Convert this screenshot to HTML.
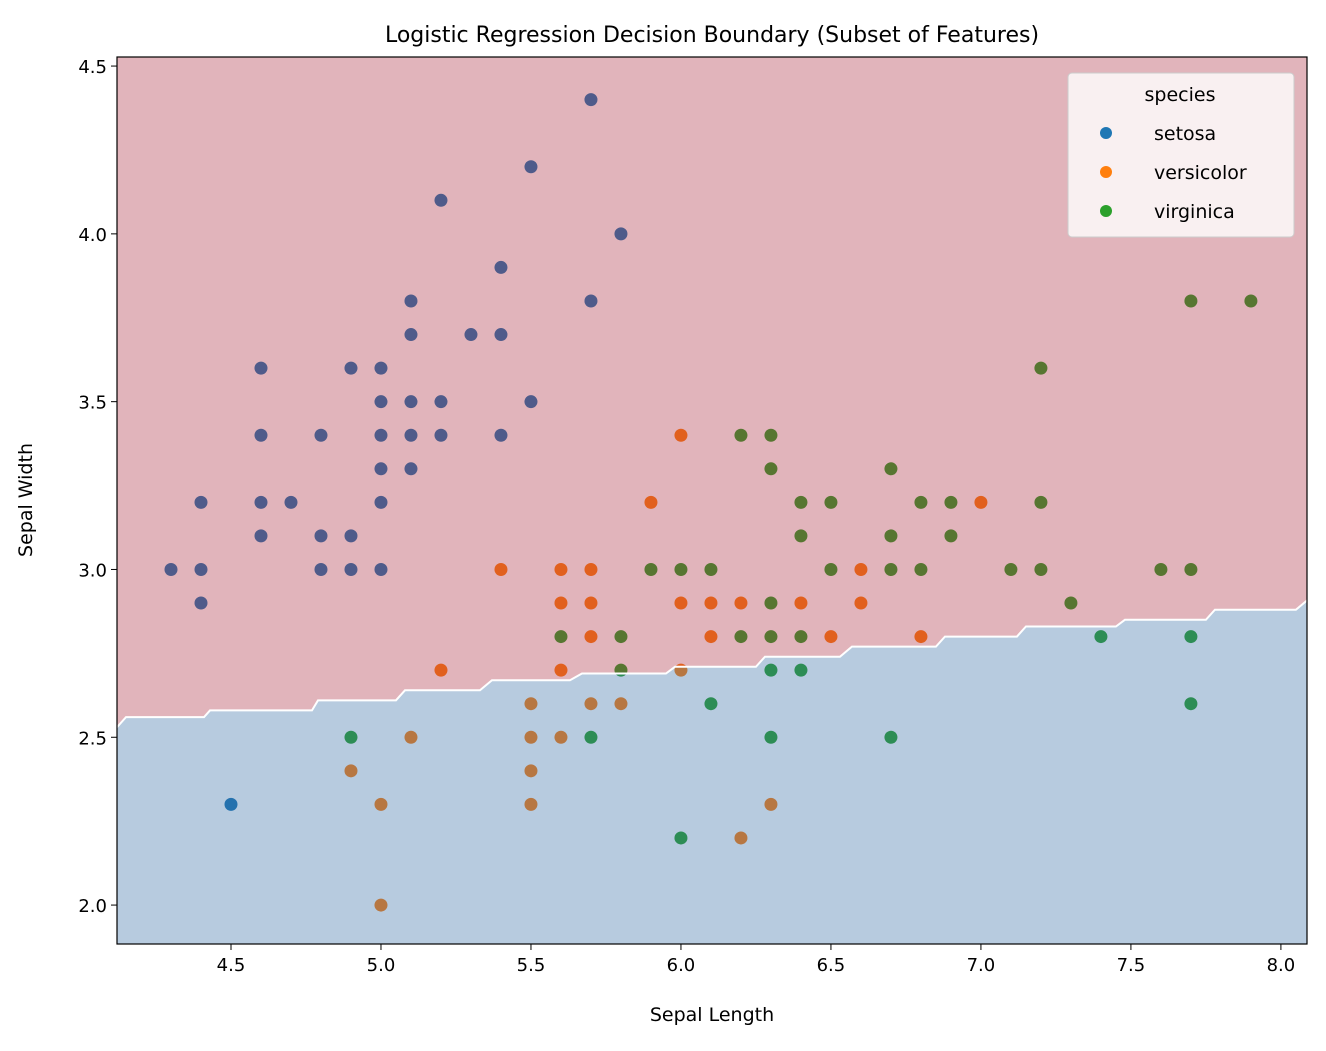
<!DOCTYPE html>
<html><head><meta charset="utf-8"><style>
body{margin:0;background:#fff;font-family:"Liberation Sans","DejaVu Sans",sans-serif}
svg text{font-family:"DejaVu Sans","Liberation Sans",sans-serif;fill:#000}
</style></head><body>
<svg id="chart" width="1326" height="1046" viewBox="0 0 1326 1046">
<defs><clipPath id="clip"><rect x="117" y="57" width="1190" height="887"/></clipPath></defs>
<g id="points" clip-path="url(#clip)"></g>
<g id="regions" clip-path="url(#clip)"></g>
<rect x="117" y="57" width="1190" height="887" fill="none" stroke="#000" stroke-width="1.2"/>
<g id="xticks"></g>
<g id="yticks"></g>
<text x="712" y="42" font-size="22" text-anchor="middle">Logistic Regression Decision Boundary (Subset of Features)</text>
<text x="712" y="1021" font-size="19" text-anchor="middle">Sepal Length</text>
<text x="32" y="500" font-size="19" text-anchor="middle" transform="rotate(-90 32 500)">Sepal Width</text>
<g>
<rect x="1068" y="73" width="226" height="164" rx="4" fill="#fff" fill-opacity="0.8" stroke="#ccc"/>
<text x="1180" y="101" font-size="19" text-anchor="middle">species</text>
<circle cx="1106" cy="133" r="6" fill="#1f77b4"/>
<text x="1154" y="140" font-size="19">setosa</text>
<circle cx="1106" cy="172" r="6" fill="#ff7f0e"/>
<text x="1154" y="179" font-size="19">versicolor</text>
<circle cx="1106" cy="211" r="6" fill="#2ca02c"/>
<text x="1154" y="218" font-size="19">virginica</text>
</g>
</svg>
<script>
const xTicks=[4.5,5.0,5.5,6.0,6.5,7.0,7.5,8.0];
const yTicks=[2.0,2.5,3.0,3.5,4.0,4.5];
const boundaryX=[4.12,4.15,4.41,4.43,4.77,4.79,5.05,5.08,5.33,5.37,5.63,5.67,5.95,5.98,6.25,6.28,6.53,6.57,6.85,6.88,7.12,7.15,7.45,7.48,7.75,7.78,8.05,8.09];
const boundaryY=[2.53,2.56,2.56,2.58,2.58,2.61,2.61,2.64,2.64,2.67,2.67,2.69,2.69,2.71,2.71,2.74,2.74,2.77,2.77,2.80,2.80,2.83,2.83,2.85,2.85,2.88,2.88,2.91];
const setosaX=[5.7,5.5,5.2,5.8,5.4,5.1,5.7,5.1,5.3,5.4,4.6,4.9,5.0,5.0,5.1,5.2,5.5,4.6,4.8,5.0,5.1,5.2,5.4,5.0,5.1,4.4,4.6,4.7,5.0,4.6,4.8,4.9,4.3,4.4,4.8,4.9,5.0,4.4,4.5];
const setosaY=[4.4,4.2,4.1,4.0,3.9,3.8,3.8,3.7,3.7,3.7,3.6,3.6,3.6,3.5,3.5,3.5,3.5,3.4,3.4,3.4,3.4,3.4,3.4,3.3,3.3,3.2,3.2,3.2,3.2,3.1,3.1,3.1,3.0,3.0,3.0,3.0,3.0,2.9,2.3];
const versiX=[6.0,5.9,7.0,5.4,5.6,5.7,6.6,5.6,5.7,6.0,6.1,6.2,6.4,6.6,5.7,6.1,6.5,6.8,5.2,5.6,6.0,5.5,5.7,5.8,5.1,5.5,5.6,4.9,5.5,5.0,5.5,6.3,6.2,5.0];
const versiY=[3.4,3.2,3.2,3.0,3.0,3.0,3.0,2.9,2.9,2.9,2.9,2.9,2.9,2.9,2.8,2.8,2.8,2.8,2.7,2.7,2.7,2.6,2.6,2.6,2.5,2.5,2.5,2.4,2.4,2.3,2.3,2.3,2.2,2.0];
const virgX=[7.7,7.9,7.2,6.2,6.3,6.3,6.7,6.4,6.5,6.8,6.9,7.2,6.4,6.7,6.9,5.9,6.0,6.1,6.5,6.7,6.8,7.1,7.2,7.6,7.7,6.3,7.3,5.6,5.8,6.2,6.3,6.4,7.4,7.7,5.8,6.3,6.4,6.1,7.7,4.9,5.7,6.3,6.7,6.0];
const virgY=[3.8,3.8,3.6,3.4,3.4,3.3,3.3,3.2,3.2,3.2,3.2,3.2,3.1,3.1,3.1,3.0,3.0,3.0,3.0,3.0,3.0,3.0,3.0,3.0,3.0,2.9,2.9,2.8,2.8,2.8,2.8,2.8,2.8,2.8,2.7,2.7,2.7,2.6,2.6,2.5,2.5,2.5,2.5,2.2];
const X0=4.12,X1=8.087,Y0=1.884,Y1=4.527,L=117,R=1307,T=57,B=944;
const sx=v=>L+(v-X0)/(X1-X0)*(R-L);
const sy=v=>B-(v-Y0)/(Y1-Y0)*(B-T);
const NS='http://www.w3.org/2000/svg';
function mk(t,a,p){const e=document.createElementNS(NS,t);for(const k in a)e.setAttribute(k,a[k]);p.appendChild(e);return e;}
const xg=document.getElementById('xticks'),yg=document.getElementById('yticks');
xTicks.forEach(v=>{const x=sx(v);
 const l=mk('line',{x1:x,x2:x,y1:B,y2:B+6,stroke:'#000'},xg);
 
 
 const t=mk('text',{x:x,y:B+27,'font-size':18,'text-anchor':'middle'},xg);t.textContent=v.toFixed(1);
 
 });
yTicks.forEach(v=>{const y=sy(v);
 const l=mk('line',{x1:L-6,x2:L,y1:y,y2:y,stroke:'#000'},yg);
 
 
 const t=mk('text',{x:L-10,y:y+7,'font-size':18,'text-anchor':'end'},yg);t.textContent=v.toFixed(1);
 
 });
const pg=document.getElementById('points');
[[setosaX,setosaY,'#1f77b4','setosa'],[versiX,versiY,'#ff7f0e','versicolor'],[virgX,virgY,'#2ca02c','virginica']].forEach(([xs,ys,c,n])=>{
 xs.forEach((v,i)=>{const p=mk('circle',{cx:sx(v),cy:sy(ys[i]),r:6.5,fill:c},pg);
 
 });});
const rg=document.getElementById('regions');
const bpath=boundaryX.map((v,i)=>sx(v)+','+sy(boundaryY[i])).join(' L');
const topRegion=mk('path',{d:'M'+L+','+sy(boundaryY[0])+' L'+bpath+' L'+R+','+T+' L'+L+','+T+' Z',fill:'rgb(169,41,61)','fill-opacity':0.35},rg);


const botRegion=mk('path',{d:'M'+L+','+sy(boundaryY[0])+' L'+bpath+' L'+R+','+B+' L'+L+','+B+' Z',fill:'rgb(49,106,164)','fill-opacity':0.35},rg);


const bl=mk('path',{d:'M'+L+','+sy(boundaryY[0])+' L'+bpath,fill:'none',stroke:'#fff','stroke-width':2},rg);


</script>
</body></html>
